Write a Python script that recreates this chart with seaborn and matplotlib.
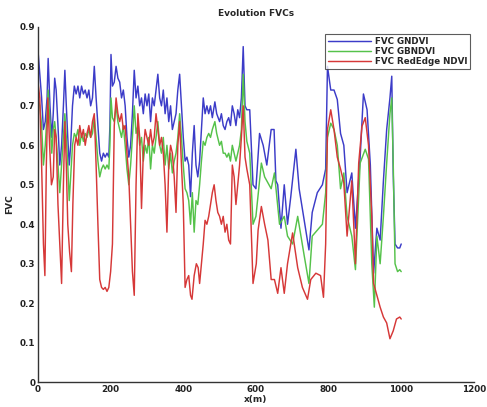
import pandas as pd
import matplotlib
matplotlib.use("Agg")
import matplotlib.pyplot as plt
import seaborn as sns

# --- values (x in m, FVC) ---
x_gndvi = [0, 5, 10, 15, 20, 25, 28, 33, 38, 42, 46, 50, 55, 60, 65, 70, 74, 78, 82, 86,
           90, 95, 100, 105, 110, 115, 120, 125, 130, 135, 140, 145, 150, 155, 160, 165,
           170, 175, 180, 185, 190, 195, 198, 201, 205, 210, 215, 220, 225, 230, 235, 240,
           245, 250, 255, 260, 265, 270, 275, 280, 285, 290, 295, 300, 305, 310, 315, 320,
           325, 330, 335, 340, 345, 350, 355, 360, 365, 370, 375, 380, 385, 390, 395, 400,
           405, 410, 415, 420, 425, 430, 435, 440, 445, 450, 455, 460, 465, 470, 475, 480,
           487, 492, 500, 505, 510, 515, 520, 525, 530, 535, 540, 545, 550, 555, 560, 565,
           570, 575, 583, 592, 600, 610, 620, 630, 642, 650, 655, 660, 669, 678, 687, 696,
           710, 719, 733, 746, 755, 769, 783, 792, 797, 806, 815, 824, 833, 842, 851, 864,
           874, 887, 896, 906, 915, 924, 933, 942, 951, 960, 969, 974, 978, 983, 990, 996, 1000]
fvc_gndvi = [0.84, 0.78, 0.72, 0.64, 0.66, 0.72, 0.82, 0.70, 0.62, 0.68, 0.77, 0.74, 0.65, 0.55,
             0.60, 0.70, 0.79, 0.70, 0.62, 0.55, 0.60, 0.70, 0.75, 0.73, 0.75, 0.72, 0.75, 0.73,
             0.74, 0.72, 0.74, 0.70, 0.72, 0.80, 0.72, 0.65, 0.58, 0.56, 0.58, 0.57, 0.58, 0.57,
             0.65, 0.83, 0.75, 0.76, 0.80, 0.77, 0.76, 0.72, 0.74, 0.70, 0.62, 0.57, 0.60, 0.68,
             0.79, 0.72, 0.75, 0.70, 0.72, 0.68, 0.73, 0.70, 0.73, 0.66, 0.72, 0.70, 0.74, 0.78,
             0.72, 0.70, 0.74, 0.68, 0.72, 0.66, 0.70, 0.64, 0.66, 0.68, 0.74, 0.78, 0.70, 0.62,
             0.56, 0.57, 0.55, 0.47, 0.58, 0.65, 0.55, 0.52, 0.56, 0.64, 0.72, 0.68, 0.70, 0.68,
             0.70, 0.67, 0.71, 0.68, 0.66, 0.68, 0.65, 0.64, 0.66, 0.67, 0.65, 0.70, 0.68, 0.65,
             0.69, 0.67, 0.72, 0.85, 0.70, 0.69, 0.69, 0.50, 0.49, 0.63, 0.60, 0.55, 0.64, 0.64,
             0.51, 0.50, 0.39, 0.50, 0.40, 0.47, 0.59, 0.49, 0.41, 0.335, 0.43, 0.48, 0.50, 0.54,
             0.80, 0.74, 0.74, 0.716, 0.63, 0.60, 0.48, 0.53, 0.39, 0.57, 0.73, 0.69, 0.55, 0.276,
             0.39, 0.36, 0.51, 0.64, 0.72, 0.775, 0.53, 0.35, 0.34, 0.34, 0.35]

x_gbndvi = [0, 5, 10, 15, 20, 25, 28, 33, 38, 42, 46, 50, 55, 60, 65, 70, 74, 78, 82, 86,
            90, 95, 100, 105, 110, 115, 120, 125, 130, 135, 140, 145, 150, 155, 160, 165,
            170, 175, 180, 185, 190, 195, 198, 201, 205, 210, 215, 220, 225, 230, 235, 240,
            245, 250, 255, 260, 265, 270, 275, 280, 285, 290, 295, 300, 305, 310, 315, 320,
            325, 330, 335, 340, 345, 350, 355, 360, 365, 370, 375, 380, 385, 390, 395, 400,
            405, 410, 415, 420, 425, 430, 435, 440, 445, 450, 455, 460, 465, 470, 475, 480,
            487, 492, 500, 505, 510, 515, 520, 525, 530, 535, 540, 545, 550, 555, 560, 565,
            570, 575, 583, 592, 600, 615, 624, 642, 651, 665, 678, 687, 701, 715, 733, 746,
            755, 769, 783, 792, 797, 806, 815, 824, 833, 842, 851, 864, 874, 887, 901, 910,
            919, 926, 933, 942, 951, 960, 969, 974, 978, 983, 990, 996, 1000]
fvc_gbndvi = [0.72, 0.70, 0.65, 0.55, 0.60, 0.68, 0.74, 0.66, 0.58, 0.64, 0.66, 0.62, 0.55, 0.48,
              0.55, 0.62, 0.68, 0.62, 0.55, 0.46, 0.52, 0.60, 0.63, 0.62, 0.64, 0.60, 0.63, 0.61,
              0.63, 0.62, 0.64, 0.62, 0.63, 0.67, 0.62, 0.56, 0.52, 0.54, 0.55, 0.54, 0.55, 0.54,
              0.60, 0.72, 0.67, 0.66, 0.70, 0.66, 0.64, 0.62, 0.65, 0.60, 0.54, 0.50, 0.55, 0.62,
              0.70, 0.63, 0.65, 0.60, 0.62, 0.56, 0.60, 0.58, 0.62, 0.54, 0.60, 0.58, 0.62, 0.66,
              0.60, 0.58, 0.62, 0.55, 0.60, 0.54, 0.58, 0.53, 0.56, 0.58, 0.62, 0.68, 0.62, 0.55,
              0.49, 0.48, 0.46, 0.40, 0.48, 0.38, 0.46, 0.45, 0.50, 0.56, 0.61, 0.60, 0.62, 0.63,
              0.62, 0.64, 0.66, 0.63, 0.60, 0.61, 0.58, 0.58, 0.57, 0.58, 0.56, 0.60, 0.58, 0.56,
              0.58, 0.60, 0.64, 0.78, 0.66, 0.61, 0.58, 0.40, 0.42, 0.555, 0.52, 0.49, 0.53, 0.40,
              0.42, 0.37, 0.35, 0.42, 0.32, 0.25, 0.37, 0.385, 0.40, 0.48, 0.62, 0.656, 0.64, 0.60,
              0.49, 0.53, 0.42, 0.37, 0.285, 0.555, 0.59, 0.565, 0.30, 0.19, 0.37, 0.30, 0.42,
              0.555, 0.68, 0.72, 0.555, 0.30, 0.28, 0.285, 0.28]

x_rededge = [0, 5, 10, 15, 19, 23, 27, 32, 37, 42, 46, 50, 55, 60, 65, 70, 74, 78, 82, 87,
             92, 96, 101, 105, 110, 115, 120, 125, 130, 135, 140, 145, 150, 155, 160, 165,
             170, 175, 180, 185, 190, 195, 200, 205, 210, 215, 220, 225, 230, 235, 240, 245,
             250, 255, 260, 265, 270, 275, 280, 285, 290, 295, 300, 305, 310, 315, 320, 325,
             330, 335, 340, 345, 350, 355, 360, 365, 370, 375, 380, 385, 390, 395, 400, 405,
             410, 415, 420, 424, 430, 436, 441, 445, 450, 455, 460, 465, 470, 475, 480, 485,
             490, 495, 500, 505, 510, 515, 520, 525, 530, 535, 540, 545, 550, 555, 560, 565,
             570, 575, 583, 592, 601, 606, 615, 624, 633, 642, 651, 660, 669, 678, 687, 701,
             715, 728, 742, 751, 765, 778, 786, 792, 797, 806, 815, 824, 833, 842, 851, 864,
             874, 883, 892, 901, 910, 919, 924, 933, 942, 951, 960, 969, 978, 987, 996, 1000]
fvc_rededge = [0.76, 0.72, 0.55, 0.35, 0.27, 0.55, 0.72, 0.60, 0.50, 0.52, 0.64, 0.62, 0.45, 0.35,
               0.25, 0.50, 0.66, 0.55, 0.40, 0.33, 0.28, 0.45, 0.60, 0.62, 0.60, 0.65, 0.62, 0.64,
               0.60, 0.63, 0.65, 0.62, 0.66, 0.68, 0.55, 0.40, 0.26, 0.24, 0.235, 0.24, 0.23, 0.24,
               0.28, 0.35, 0.65, 0.72, 0.68, 0.66, 0.68, 0.64, 0.65, 0.58, 0.52, 0.40, 0.28, 0.22,
               0.50, 0.68, 0.62, 0.44, 0.58, 0.64, 0.62, 0.60, 0.64, 0.60, 0.62, 0.68, 0.64, 0.60,
               0.62, 0.58, 0.50, 0.38, 0.55, 0.60, 0.58, 0.52, 0.43, 0.60, 0.66, 0.55, 0.45, 0.24,
               0.26, 0.27, 0.22, 0.21, 0.27, 0.30, 0.29, 0.25, 0.30, 0.35, 0.41, 0.40, 0.42, 0.45,
               0.48, 0.50, 0.46, 0.43, 0.42, 0.40, 0.42, 0.38, 0.40, 0.36, 0.35, 0.55, 0.52, 0.45,
               0.50, 0.55, 0.62, 0.70, 0.57, 0.54, 0.50, 0.25, 0.30, 0.385, 0.445, 0.40, 0.36, 0.26,
               0.26, 0.225, 0.29, 0.225, 0.30, 0.378, 0.29, 0.24, 0.21, 0.26, 0.276, 0.27, 0.215,
               0.35, 0.64, 0.69, 0.64, 0.57, 0.54, 0.505, 0.37, 0.51, 0.30, 0.555, 0.648, 0.67,
               0.60, 0.42, 0.25, 0.22, 0.19, 0.165, 0.15, 0.11, 0.13, 0.16, 0.165, 0.16]

series_names = ["FVC GNDVI", "FVC GBNDVI", "FVC RedEdge NDVI"]
series_colors = ["#3c3cc8", "#55c24a", "#d63838"]
x_ticks = [0, 200, 400, 600, 800, 1000, 1200]
y_ticks = [0, 0.1, 0.2, 0.3, 0.4, 0.5, 0.6, 0.7, 0.8, 0.9]

frames = []
for name, xs, ys in zip(series_names,
                        [x_gndvi, x_gbndvi, x_rededge],
                        [fvc_gndvi, fvc_gbndvi, fvc_rededge]):
    frames.append(pd.DataFrame({"x": xs, "FVC": ys, "serie": name}))
df = pd.concat(frames, ignore_index=True)

sns.set_theme(style="white")
plt.rcParams["font.family"] = ["DejaVu Sans"]

fig = plt.figure(figsize=(4.87, 4.07), dpi=100)
ax = fig.add_axes([0.078, 0.061, 0.895, 0.873])

sns.lineplot(data=df, x="x", y="FVC", hue="serie", hue_order=series_names,
             palette=series_colors, estimator=None, sort=False, linewidth=1.05, ax=ax)

ax.set_xlim(0, 1200)
ax.set_ylim(0, 0.9)
ax.set_xticks(x_ticks)
ax.set_yticks(y_ticks)
ax.set_xticklabels([str(t) for t in x_ticks])
ax.set_yticklabels(["0"] + [f"{t:.1f}" for t in y_ticks[1:]])
ax.tick_params(direction="in", length=3, width=0.8, labelsize=6.3, colors="#222222", pad=2)
for lab in ax.get_xticklabels() + ax.get_yticklabels():
    lab.set_fontweight("bold")
for side in ["top", "right"]:
    ax.spines[side].set_visible(False)
for side in ["left", "bottom"]:
    ax.spines[side].set_color("#333333")
    ax.spines[side].set_linewidth(1.0)

ax.set_title("Evolution FVCs", fontsize=6.5, fontweight="bold", pad=8)
ax.set_xlabel("x(m)", fontsize=6.5, fontweight="bold", labelpad=1)
ax.set_ylabel("FVC", fontsize=6.5, fontweight="bold", labelpad=4)

leg = ax.legend(loc="upper right", bbox_to_anchor=(0.995, 0.985), fontsize=6.3, frameon=True,
                fancybox=False, edgecolor="#333333", borderpad=0.3, labelspacing=0.15,
                handlelength=5.0, handletextpad=0.4, borderaxespad=0.2)
leg.get_frame().set_linewidth(0.8)
for txt in leg.get_texts():
    txt.set_fontweight("bold")

fig.savefig("out.png", dpi=100)
plt.close(fig)
